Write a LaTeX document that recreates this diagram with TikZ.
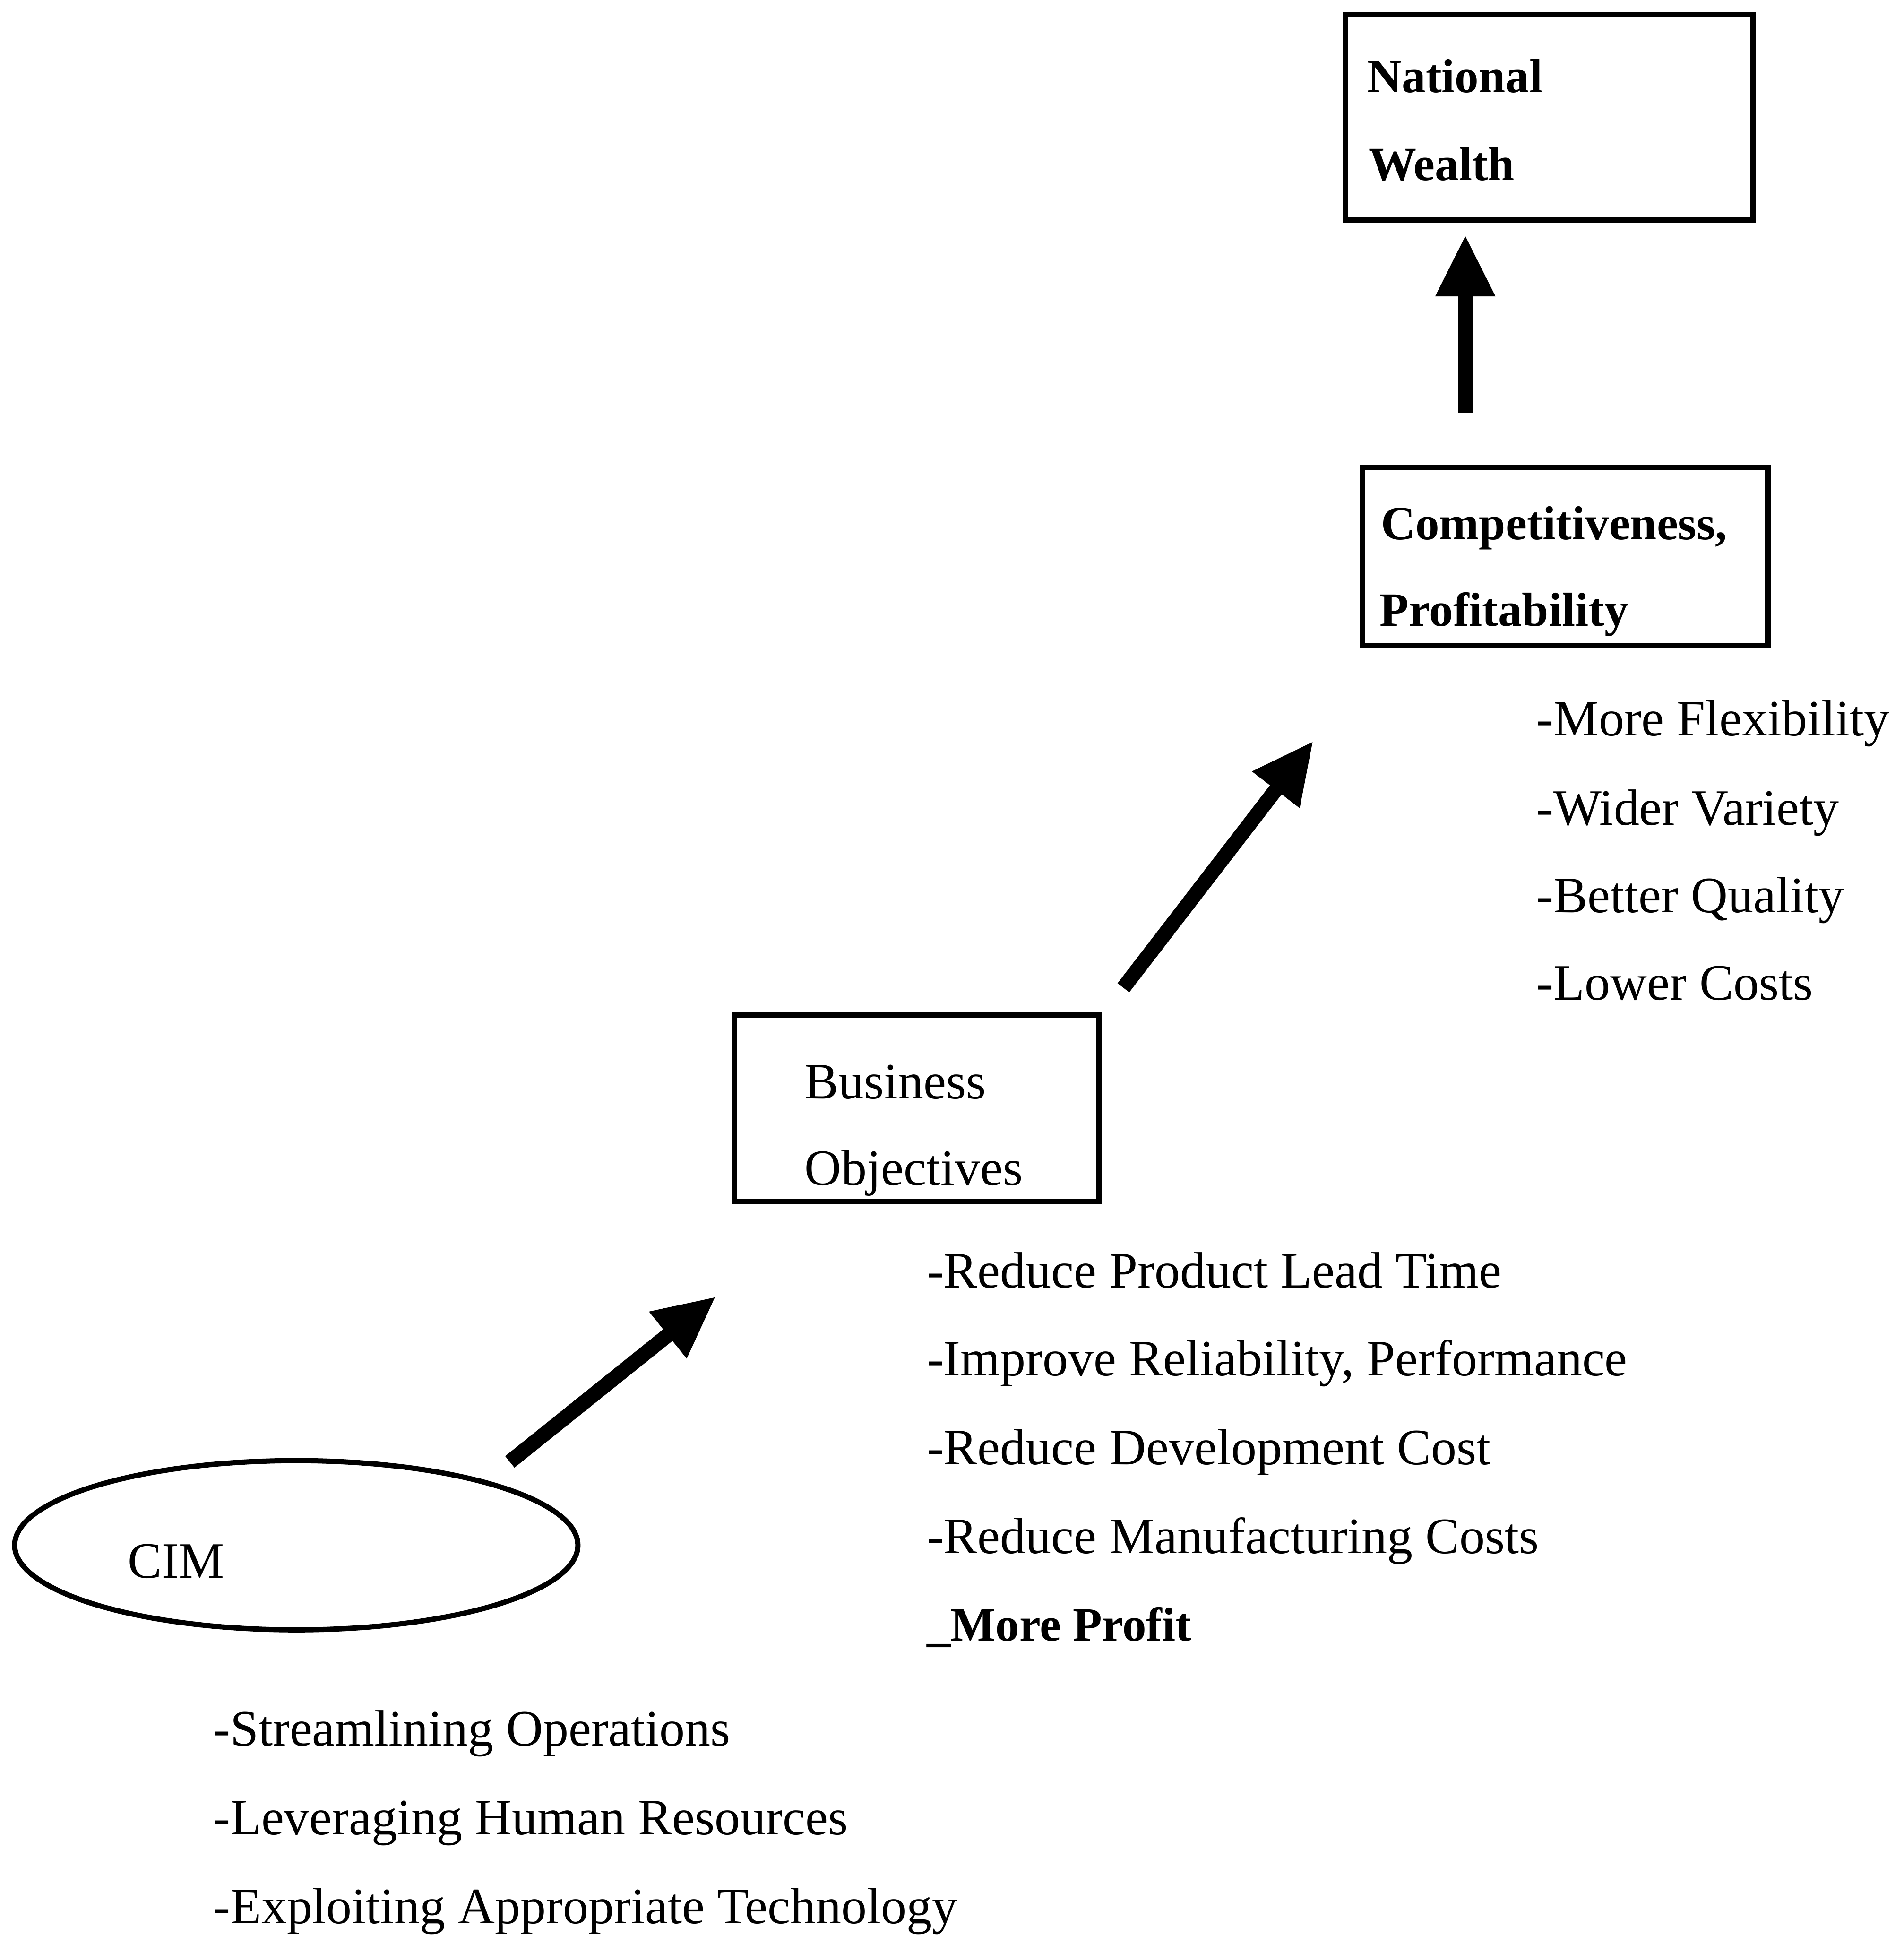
\documentclass[tikz,border=0pt]{standalone}
\usepackage{fontspec}
\setmainfont{Liberation Serif}
\usetikzlibrary{arrows.meta,shapes.geometric}
\begin{document}
\begin{tikzpicture}[x=0.01cm,y=-0.01cm,
  txt/.style={anchor=base west, inner sep=0pt, font=\fontsize{11.75pt}{14pt}\selectfont},
  btxt/.style={anchor=base west, inner sep=0pt, font=\fontsize{11.0pt}{14pt}\selectfont\bfseries},
  box/.style={draw, line width=1.2pt, rectangle, inner sep=0pt},
  oval/.style={draw, line width=1.2pt, ellipse, inner sep=0pt},
  fat/.style={line width=0.12cm, line cap=butt,
    -{Triangle[length=0.5cm,width=0.45cm]}}
]
\useasboundingbox (0,0) rectangle (1542,1568);

% boxes and oval
\node[box, minimum width=3.30cm, minimum height=1.66cm] (wealth) at (1255,95) {};
\node[box, minimum width=3.28cm, minimum height=1.44cm] (compet) at (1268,451) {};
\node[box, minimum width=2.95cm, minimum height=1.51cm] (busobj) at (742.5,897.5) {};
\node[oval, minimum width=4.56cm, minimum height=1.37cm] (cim) at (240,1251.5) {};

% box titles
\node[btxt] (wealth1) at (1107,75) {National};
\node[btxt] (wealth2) at (1108,146) {Wealth};
\node[btxt] (compet1) at (1118,437) {Competitiveness,};
\node[btxt] (compet2) at (1117,507) {Profitability};
\node[txt] (busobj1) at (651,890) {Business};
\node[txt] (busobj2) at (651,960) {Objectives};
\node[txt] (cimlabel) at (103,1278) {CIM};

% list under competitiveness
\node[txt] (r1) at (1244,596) {-More Flexibility};
\node[txt] (r2) at (1244,668) {-Wider Variety};
\node[txt] (r3) at (1244,739) {-Better Quality};
\node[txt] (r4) at (1244,810) {-Lower Costs};

% list under business objectives
\node[txt] (m1) at (750,1043) {-Reduce Product Lead Time};
\node[txt] (m2) at (750,1114) {-Improve Reliability, Performance};
\node[txt] (m3) at (750,1186) {-Reduce Development Cost};
\node[txt] (m4) at (750,1258) {-Reduce Manufacturing Costs};
\node[btxt] (m5) at (750,1329) {\_More Profit};

% list under CIM
\node[txt] (b1) at (172,1414) {-Streamlining Operations};
\node[txt] (b2) at (172,1486) {-Leveraging Human Resources};
\node[txt] (b3) at (172,1558) {-Exploiting Appropriate Technology};

% arrow ends
\coordinate (a1s) at (413,1184);
\coordinate (a1e) at (580,1050);
\coordinate (a2s) at (910,800);
\coordinate (a2e) at (1064,600);
\coordinate (a3s) at (1187,334);
\coordinate (a3e) at (1187,190);

\draw[fat] (a1s) -- (a1e);
\draw[fat] (a2s) -- (a2e);
\draw[fat] (a3s) -- (a3e);
\end{tikzpicture}
\end{document}
